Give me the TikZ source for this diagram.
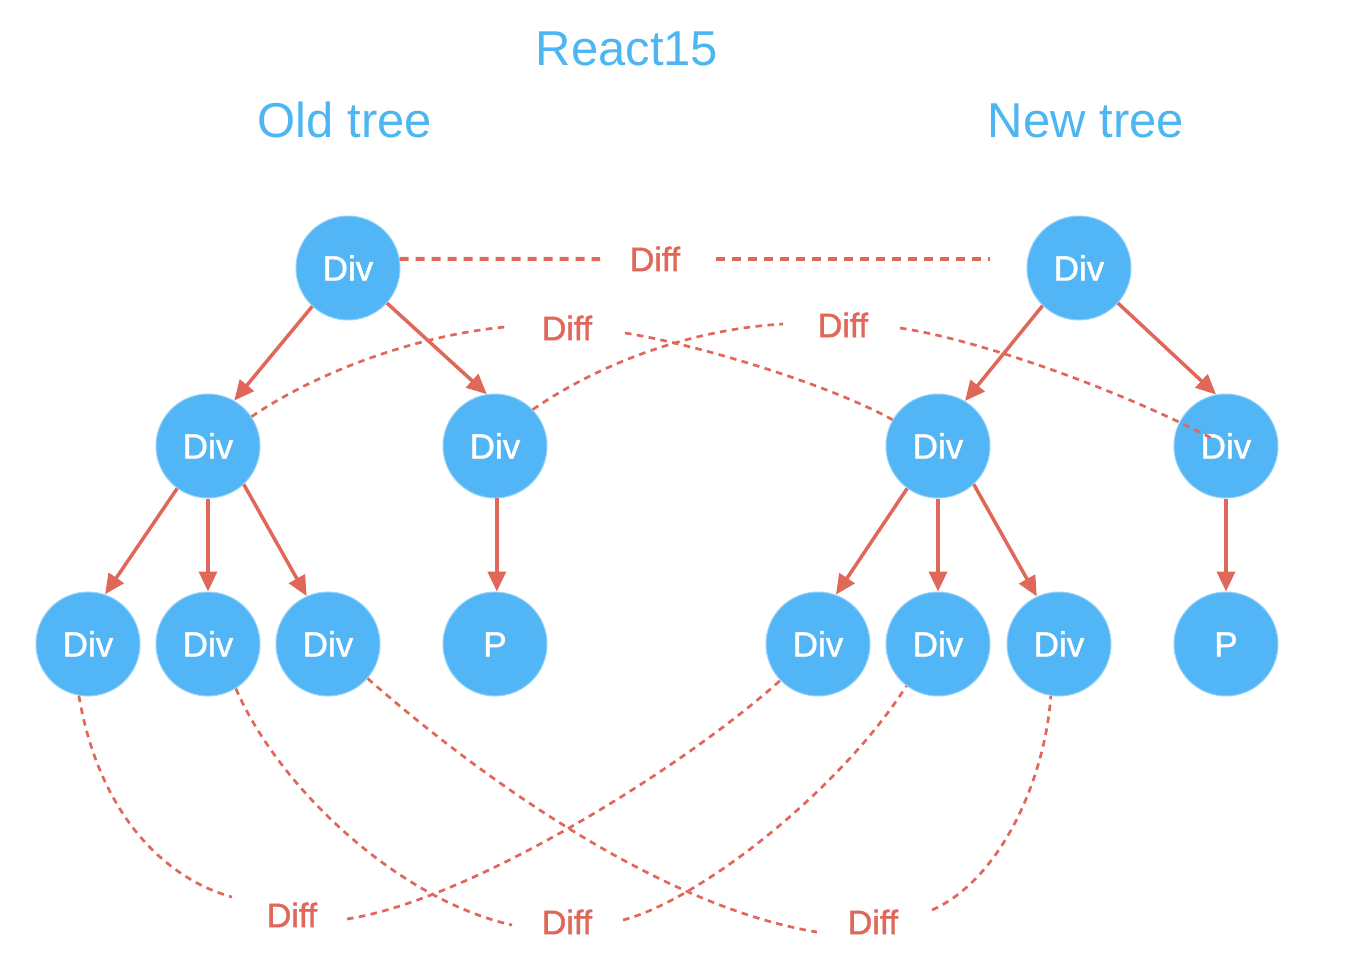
\documentclass[tikz,border=0pt]{standalone}
\usepackage{fontspec}
\setmainfont{Liberation Sans}
\newfontfamily\medfont[FakeBold=1.3]{Liberation Sans}
\usetikzlibrary{arrows.meta}
\definecolor{nodeblue}{HTML}{52B5F6}
\definecolor{titleblue}{HTML}{4DB6F2}
\definecolor{diffred}{HTML}{E0685A}
\begin{document}
\begin{tikzpicture}[x=0.5pt,y=-0.5pt,
 treenode/.style={circle, fill=nodeblue, draw=nodeblue!60!white, line width=0.5pt, minimum size=52pt, inner sep=0pt, text=white, font=\medfont\fontsize{17.5}{20}\selectfont, text height=12.5pt, text depth=0pt},
 difflabel/.style={text=diffred, font=\medfont\fontsize{17}{20}\selectfont, text height=12.2pt, text depth=0pt, inner sep=0pt},
 titletext/.style={text=titleblue, font=\fontsize{24.5}{28}\selectfont, anchor=base, inner sep=0pt},
 tarrow/.style={draw=diffred, line width=1.75pt, -{Triangle[length=10pt,width=9pt]}},
 thickdash/.style={draw=diffred, line width=2pt, dash pattern=on 4.5pt off 3.5pt},
 thindash/.style={draw=diffred, line width=1.35pt, dash pattern=on 3.3pt off 2.7pt},
]
\useasboundingbox (0,0) rectangle (1356,965);

% titles
\node[titletext] (t0) at (627,65) {React15};
\node[titletext] (t1) at (345,137) {Old tree};
\node[titletext] (t2) at (1086,137) {New tree};

% old tree
\node[treenode] (oroot) at (348,268) {Div};
\node[treenode] (o1a) at (208,446) {Div};
\node[treenode] (o1b) at (495,446) {Div};
\node[treenode] (o2a) at (88,644) {Div};
\node[treenode] (o2b) at (208,644) {Div};
\node[treenode] (o2c) at (328,644) {Div};
\node[treenode] (o2d) at (495,644) {P};

% new tree
\node[treenode] (nroot) at (1079,268) {Div};
\node[treenode] (n1a) at (938,446) {Div};
\node[treenode] (n1b) at (1226,446) {Div};
\node[treenode] (n2a) at (818,644) {Div};
\node[treenode] (n2b) at (938,644) {Div};
\node[treenode] (n2c) at (1059,644) {Div};
\node[treenode] (n2d) at (1226,644) {P};

% diff labels
\node[difflabel] (dtop) at (655,259) {Diff};
\node[difflabel] (dA) at (567,328) {Diff};
\node[difflabel] (dB) at (843,325) {Diff};
\node[difflabel] (dC) at (292,915) {Diff};
\node[difflabel] (dE) at (567,922) {Diff};
\node[difflabel] (dF) at (873,922) {Diff};

% free ends of the dashed curves
\coordinate (dtopl) at (600,259);
\coordinate (dtopr) at (716,259);
\coordinate (dtope) at (990,259);
\coordinate (a1) at (505,327);
\coordinate (a2) at (625,333);
\coordinate (b1) at (783,324);
\coordinate (b2) at (900,328);
\coordinate (b2end) at (1215,440);
\coordinate (c1) at (232,897);
\coordinate (c2) at (347,919);
\coordinate (e1) at (512,925);
\coordinate (e2) at (623,920);
\coordinate (f1) at (817,932);
\coordinate (f2) at (932,910);

% tree arrows (old)
\draw[tarrow] (oroot.227) -- (o1a.60);
\draw[tarrow] (oroot.318) -- (o1b.99);
\draw[tarrow] (o1a.234) -- (o2a.71);
\draw[tarrow] (o1a.270) -- (o2b.90);
\draw[tarrow] (o1a.313) -- (o2c.114);
\draw[tarrow] (o1b.272) -- (o2d.88);

% tree arrows (new)
\draw[tarrow] (nroot.226) -- (n1a.59);
\draw[tarrow] (nroot.318) -- (n1b.101);
\draw[tarrow] (n1a.234) -- (n2a.70);
\draw[tarrow] (n1a.270) -- (n2b.90);
\draw[tarrow] (n1a.313) -- (n2c.115);
\draw[tarrow] (n1b.270) -- (n2d.90);

% top diff line
\draw[thickdash] (oroot.10) -- (dtopl);
\draw[thickdash] (dtopr) -- (dtope);

% level 1 diff curves
\draw[thindash] (o1a.34) .. controls (320,370) and (420,335) .. (a1);
\draw[thindash] (a2) .. controls (700,345) and (830,385) .. (n1a.150);
\draw[thindash] (o1b.44) .. controls (590,370) and (680,330) .. (b1);
\draw[thindash] (b2) .. controls (980,340) and (1120,390) .. (b2end);

% level 2 diff curves
\draw[thindash] (o2a.260) .. controls (100,820) and (170,880) .. (c1);
\draw[thindash] (c2) .. controls (470,900) and (680,770) .. (n2a.224);
\draw[thindash] (o2b.302) .. controls (280,790) and (400,900) .. (e1);
\draw[thindash] (e2) .. controls (700,900) and (840,790) .. (n2b.233);
\draw[thindash] (o2c.319) .. controls (460,760) and (650,905) .. (f1);
\draw[thindash] (f2) .. controls (1000,880) and (1045,780) .. (n2c.261);
\end{tikzpicture}
\end{document}
